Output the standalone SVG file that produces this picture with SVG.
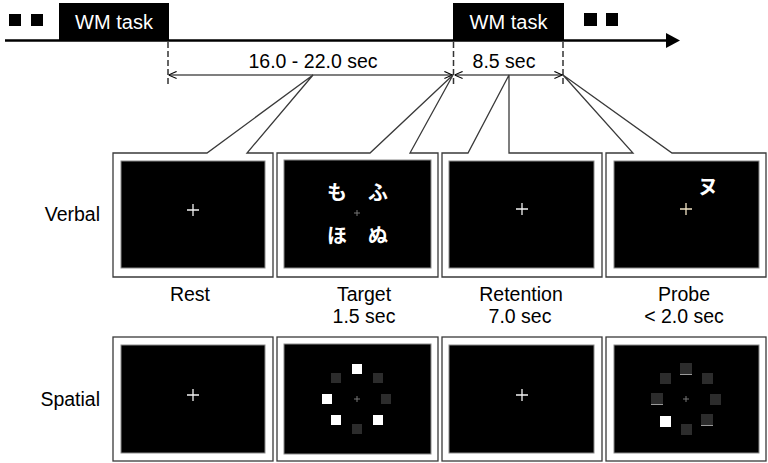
<svg xmlns="http://www.w3.org/2000/svg" width="768" height="463" viewBox="0 0 768 463">
<defs>
<style>
.t{font-family:"Liberation Sans",Arial,sans-serif;font-size:19.5px;fill:#000}
.tw{font-family:"Liberation Sans",Arial,sans-serif;font-size:20px;fill:#fff}
.kana{font-family:"Noto Sans CJK JP",sans-serif;font-size:20px;font-weight:bold;fill:#fff;text-anchor:middle}
.frame{fill:#fff;stroke:#3a3a3a;stroke-width:1.3}
.screen{fill:#000;stroke:#8a8a8a;stroke-width:1}
.cross{stroke:#f2f2f2;stroke-width:1.3}
.scross{stroke:#777;stroke-width:1}
.dash{stroke:#333;stroke-width:1.5;stroke-dasharray:6 3;fill:none}
.dim{stroke:#000;stroke-width:1.2;fill:none}
.wsq{fill:#fff}
.dsq{fill:#2c2c2c}
.uline{stroke:#9a9a9a;stroke-width:1}
</style>
<marker id="openL" viewBox="0 0 10 10" refX="10" refY="5" markerWidth="9" markerHeight="9" markerUnits="userSpaceOnUse" orient="auto-start-reverse">
<path d="M1,1 L10,5 L1,9" fill="none" stroke="#000" stroke-width="1.2"/>
</marker>
</defs>

<g id="timeline">
<rect x="9" y="14" width="12" height="12" fill="#000"/>
<rect x="31" y="14" width="12" height="12" fill="#000"/>
<line x1="5" y1="40.5" x2="668" y2="40.5" stroke="#000" stroke-width="2.6"/>
<polygon points="666,33 680,40.5 666,48" fill="#000"/>
<rect x="584" y="13" width="13" height="13" fill="#000"/>
<rect x="606" y="13" width="12" height="13" fill="#000"/>
</g>

<g id="wm-task-1">
<rect x="59" y="3" width="110" height="38" fill="#000"/>
<text class="tw" x="114" y="29" text-anchor="middle">WM task</text>
</g>
<g id="wm-task-2">
<rect x="453" y="3" width="111" height="38" fill="#000"/>
<text class="tw" x="508.5" y="29" text-anchor="middle">WM task</text>
</g>

<g id="connectors">
<line class="dash" x1="168" y1="42" x2="168" y2="86"/>
<line class="dash" x1="453.5" y1="42" x2="453.5" y2="86"/>
<line class="dash" x1="563" y1="42" x2="563" y2="86"/>
<line class="dim" x1="168.5" y1="75" x2="452.5" y2="75" marker-start="url(#openL)" marker-end="url(#openL)"/>
<line class="dim" x1="454.5" y1="75" x2="562.5" y2="75" marker-start="url(#openL)" marker-end="url(#openL)"/>
<text class="t" x="313" y="68" text-anchor="middle">16.0 - 22.0 sec</text>
<text class="t" x="504" y="68" text-anchor="middle">8.5 sec</text>
</g>

<g id="panel-rest-verbal">
<path class="frame" d="M113,153 L207,153 L313,75 L247,153 L273,153 L273,277 L113,277 Z"/>
<rect class="screen" x="121" y="161" width="144" height="107"/>
<path class="cross" d="M187,210 H199 M193,204 V216"/>
</g>
<g id="panel-target-verbal">
<path class="frame" d="M277,153 L370,153 L453,75 L410,153 L438,153 L438,277 L277,277 Z"/>
<rect class="screen" x="284" y="160" width="147" height="108"/>
<text class="kana" x="337" y="200">も</text>
<text class="kana" x="378" y="200">ふ</text>
<text class="kana" x="337" y="243">ほ</text>
<text class="kana" x="378" y="243">ぬ</text>
<path class="scross" d="M354,213 H360 M357,210 V216"/>
</g>
<g id="panel-retention-verbal">
<path class="frame" d="M442,153 L468,153 L509,75 L509,153 L602,153 L602,277 L442,277 Z"/>
<rect class="screen" x="449" y="161" width="145" height="107"/>
<path class="cross" d="M516,209 H528 M522,203 V215" stroke="#eef0ff"/>
</g>
<g id="panel-probe-verbal">
<path class="frame" d="M606,153 L633,153 L563,75 L672,153 L766,153 L766,277 L606,277 Z"/>
<rect class="screen" x="614" y="161" width="145" height="107"/>
<text class="kana" x="708" y="194">ヌ</text>
<path d="M680,209 H692 M686,203 V215" stroke="#f0e2c4" stroke-width="1.3"/>
</g>

<g id="labels">
<text class="t" x="100" y="221" text-anchor="end">Verbal</text>
<text class="t" x="100" y="406" text-anchor="end">Spatial</text>
<text class="t" x="190" y="301" text-anchor="middle">Rest</text>
<text class="t" x="364" y="301" text-anchor="middle">Target</text>
<text class="t" x="364" y="323" text-anchor="middle">1.5 sec</text>
<text class="t" x="521" y="301" text-anchor="middle">Retention</text>
<text class="t" x="520" y="323" text-anchor="middle">7.0 sec</text>
<text class="t" x="684" y="301" text-anchor="middle">Probe</text>
<text class="t" x="684" y="323" text-anchor="middle">&lt; 2.0 sec</text>
</g>

<g id="panel-rest-spatial">
<rect class="frame" x="113" y="337" width="160" height="124"/>
<rect class="screen" x="121" y="345" width="144" height="108"/>
<path class="cross" d="M187,395 H199 M193,389 V401"/>
</g>
<g id="panel-target-spatial">
<rect class="frame" x="277" y="337" width="161" height="124"/>
<rect class="screen" x="284" y="344" width="147" height="110"/>
<rect class="wsq" x="352" y="364" width="10" height="10"/>
<rect class="dsq" x="331" y="373" width="10" height="10"/>
<rect class="dsq" x="373" y="373" width="10" height="10"/>
<rect class="wsq" x="322" y="394" width="10" height="10"/>
<rect class="dsq" x="381" y="394" width="10" height="10"/>
<rect class="wsq" x="331" y="415" width="10" height="10"/>
<rect class="wsq" x="373" y="415" width="10" height="10"/>
<rect class="dsq" x="352" y="424" width="10" height="10"/>
<path class="scross" d="M354,399 H360 M357,396 V402"/>
</g>
<g id="panel-retention-spatial">
<rect class="frame" x="442" y="337" width="160" height="124"/>
<rect class="screen" x="449" y="345" width="145" height="108"/>
<path class="cross" d="M516,395 H528 M522,389 V401"/>
</g>
<g id="panel-probe-spatial">
<rect class="frame" x="606" y="337" width="160" height="124"/>
<rect class="screen" x="614" y="345" width="145" height="108"/>
<rect class="dsq" x="680" y="363" width="12" height="12"/>
<line class="uline" x1="680" y1="374.5" x2="692" y2="374.5"/>
<rect class="dsq" x="660" y="373" width="11" height="11"/>
<rect class="dsq" x="702" y="373" width="11" height="11"/>
<rect class="dsq" x="651" y="393" width="12" height="12"/>
<line class="uline" x1="651" y1="404.5" x2="663" y2="404.5"/>
<rect class="dsq" x="710" y="394" width="11" height="11"/>
<rect class="wsq" x="660" y="416" width="11" height="11"/>
<rect class="dsq" x="681" y="424" width="11" height="11"/>
<rect class="dsq" x="701" y="414" width="12" height="12"/>
<line class="uline" x1="701" y1="425.5" x2="713" y2="425.5"/>
<path class="scross" d="M683,399 H689 M686,396 V402"/>
</g>
</svg>
